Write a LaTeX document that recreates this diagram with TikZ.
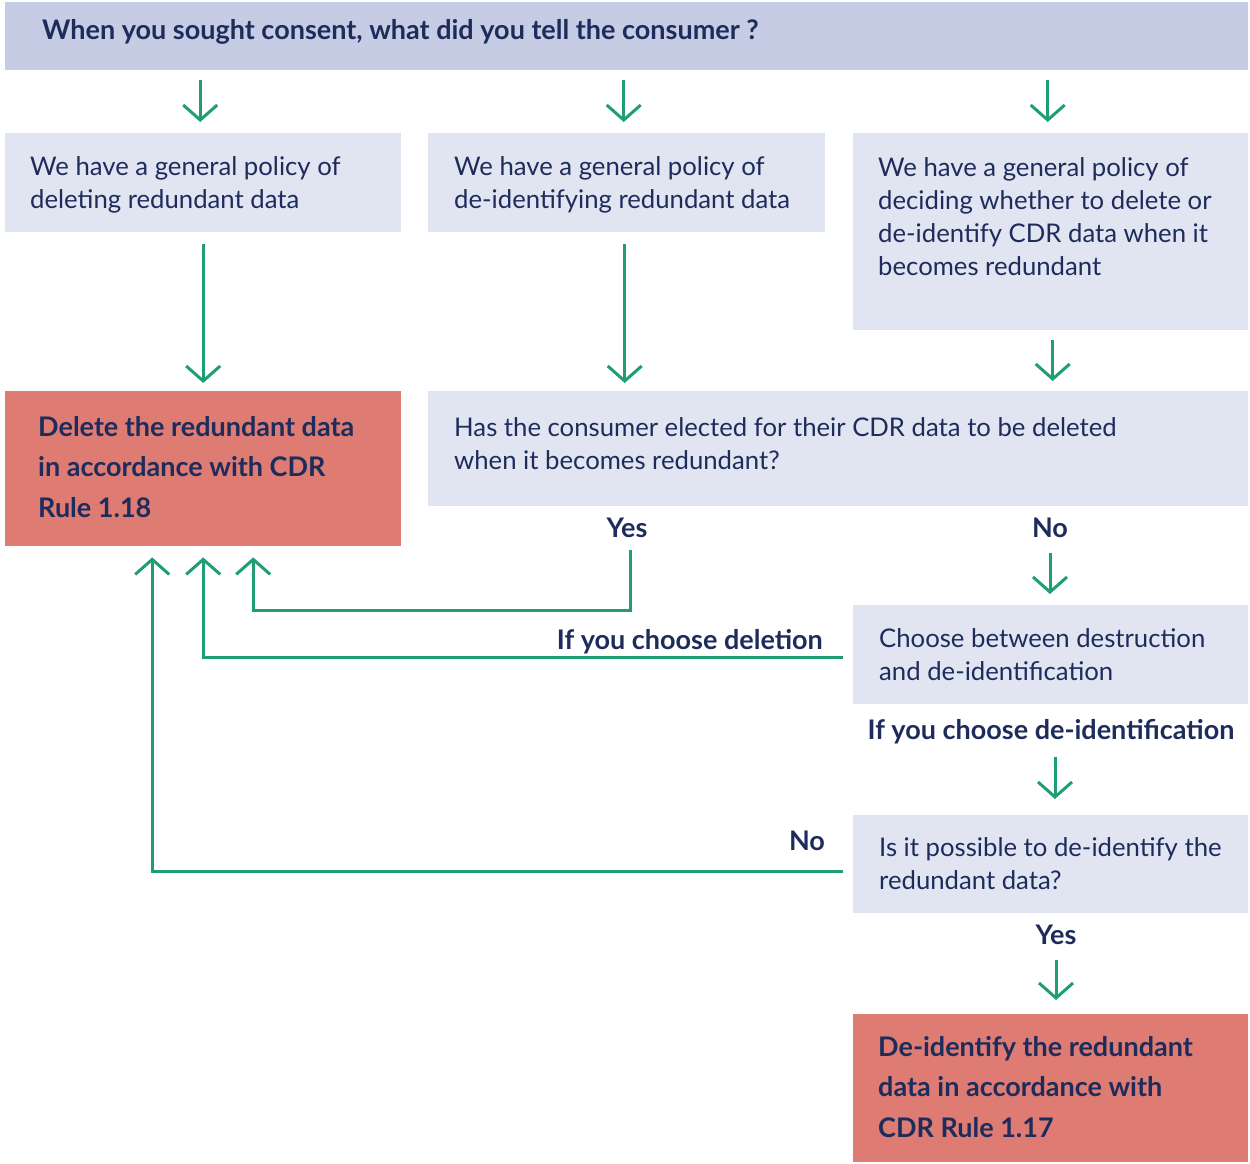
\documentclass[tikz,border=0pt]{standalone}
\usepackage{fontspec}
\setmainfont{Lato}
\usetikzlibrary{arrows.meta}
\definecolor{navy}{HTML}{1E2C5C}
\definecolor{hdcol}{HTML}{C5CCE4}
\definecolor{boxcol}{HTML}{E1E5F1}
\definecolor{redcol}{HTML}{DE7B72}
\definecolor{grn}{HTML}{1F9E76}
\begin{document}
\begin{tikzpicture}[x=1pt,y=-1pt,
  box/.style={fill=boxcol,draw=none,inner sep=0pt,anchor=north west},
  hdbox/.style={fill=hdcol,draw=none,inner sep=0pt,anchor=north west},
  redbox/.style={fill=redcol,draw=none,inner sep=0pt,anchor=north west},
  body/.style={text=navy,inner sep=0pt,anchor=base west,align=left,font=\fontsize{25.7}{33}\selectfont},
  bodyb/.style={text=navy,inner sep=0pt,anchor=base west,align=left,font=\bfseries\fontsize{27}{40.5}\selectfont},
  lbl/.style={text=navy,inner sep=0pt,anchor=base,font=\bfseries\fontsize{27}{30}\selectfont},
  arr/.style={draw=grn,line width=3pt,-{Straight Barb[length=15pt,width=34pt]}},
  ln/.style={draw=grn,line width=3pt}]
\useasboundingbox (0,0) rectangle (1250,1164);
% boxes
\node[hdbox,minimum width=1243pt,minimum height=68pt] (hd) at (5,2) {};
\node[box,minimum width=396pt,minimum height=99pt] (b1) at (5,133) {};
\node[box,minimum width=397pt,minimum height=99pt] (b2) at (428,133) {};
\node[box,minimum width=395pt,minimum height=197pt] (b3) at (853,133) {};
\node[redbox,minimum width=396pt,minimum height=155pt] (del) at (5,391) {};
\node[box,minimum width=820pt,minimum height=115pt] (q) at (428,391) {};
\node[box,minimum width=395pt,minimum height=99pt] (ch) at (853,605) {};
\node[box,minimum width=395pt,minimum height=98pt] (ps) at (853,815) {};
\node[redbox,minimum width=395pt,minimum height=148pt] (di) at (853,1014) {};
% texts (base anchor = baseline of last line)
\node[text=navy,inner sep=0pt,anchor=base west,font=\bfseries\fontsize{27}{30}\selectfont] (hdt) at (42,40) {When you sought consent, what did you tell the consumer ?};
\node[body] (t1) at (30,208) {We have a general policy of\\deleting redundant data};
\node[body] (t2) at (454,208) {We have a general policy of\\de-identifying redundant data};
\node[body] (t3) at (878,275) {We have a general policy of\\deciding whether to delete or\\de-identify CDR data when it\\becomes redundant};
\node[body] (tq) at (454,469) {Has the consumer elected for their CDR data to be deleted\\when it becomes redundant?};
\node[body] (tch) at (879,680) {Choose between destruction\\and de-identification};
\node[body] (tps) at (879,889) {Is it possible to de-identify the\\redundant data?};
\node[bodyb] (tdel) at (38,517) {Delete the redundant data\\in accordance with CDR\\Rule 1.18};
\node[bodyb] (tdi) at (878,1137) {De-identify the redundant\\data in accordance with\\CDR Rule 1.17};
% labels
\node[lbl] (yes1) at (627,537) {Yes};
\node[lbl] (no1) at (1050,537) {No};
\node[lbl,anchor=base east] (ifdel) at (823,649) {If you choose deletion};
\node[lbl] (ifdi) at (1051,739) {If you choose de-identification};
\node[lbl] (no2) at (807,850) {No};
\node[lbl] (yes2) at (1056,944) {Yes};
% connectors
\draw[arr,shorten <=10pt,shorten >=11pt] ([xshift=-3pt]b1.north |- hd.south) -- ([xshift=-3pt]b1.north);
\draw[arr,shorten <=10pt,shorten >=11pt] ([xshift=-3pt]b2.north |- hd.south) -- ([xshift=-3pt]b2.north);
\draw[arr,shorten <=10pt,shorten >=11pt] ([xshift=-3pt]b3.north |- hd.south) -- ([xshift=-3pt]b3.north);
\draw[arr,shorten <=12pt,shorten >=8pt] (b1.south) -- (del.north);
\draw[arr,shorten <=12pt,shorten >=8pt] ([xshift=-2pt]b2.south) -- ([xshift=-2pt]b2.south |- q.north);
\draw[arr,shorten <=10pt,shorten >=10pt] ([xshift=2pt]b3.south) -- ([xshift=2pt]b3.south |- q.north);
\draw[arr,shorten >=11pt] ([yshift=-16pt]no1.base) -- (no1.base |- ch.north);
\draw[arr] ([xshift=3pt,yshift=-13pt]yes1.base) |- ([xshift=50pt,yshift=-64pt]del.south) -- ([xshift=50pt,yshift=-11pt]del.south);
\draw[arr] ([xshift=-10pt,yshift=-2.5pt]ch.west) -| ([yshift=-11pt]del.south);
\draw[arr] ([xshift=-10pt,yshift=-7pt]ps.west) -| ([xshift=-51pt,yshift=-11pt]del.south);
\draw[arr,shorten >=16pt] ([xshift=4pt,yshift=-18pt]ifdi.base) -- ([xshift=4pt]ifdi.base |- ps.north);
\draw[arr,shorten >=14pt] ([yshift=-16pt]yes2.base) -- (yes2.base |- di.north);
\end{tikzpicture}
\end{document}
